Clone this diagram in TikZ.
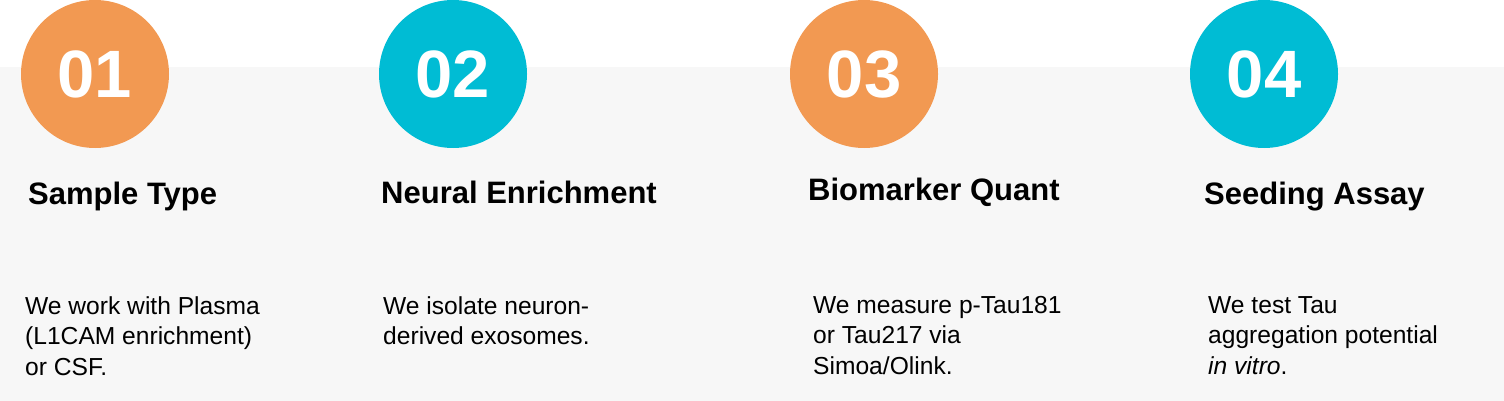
\documentclass[tikz,border=0pt]{standalone}
\usepackage{fontspec}
\setmainfont{Liberation Sans}
\usepackage{xcolor}
\definecolor{stepOrange}{RGB}{242,153,82}
\definecolor{stepTeal}{RGB}{0,188,212}
\definecolor{panelGray}{RGB}{247,247,247}

\begin{document}
\begin{tikzpicture}[x=1pt, y=-1pt,
	badge/.style={circle, minimum size=148pt, inner sep=0pt, text=white, font=\fontsize{67}{67}\selectfont\bfseries},
	heading/.style={anchor=base west, inner sep=0pt, font=\fontsize{31}{31}\selectfont\bfseries},
	blurb/.style={anchor=north west, inner sep=0pt, align=left, font=\fontsize{24.6}{30.5}\selectfont}]
	\def\W{1504}
	\def\H{401}
	\def\band{67}

	\useasboundingbox (0,0) rectangle (\W,\H);
	\fill[white]		(0,0) rectangle (\W,\H);
	\fill[panelGray]	(0,\band) rectangle (\W,\H);

	% badges
	\node[badge, fill=stepOrange]	(badge1) at (95,74) {01};
	\node[badge, fill=stepTeal]		(badge2) at (453,74) {02};
	\node[badge, fill=stepOrange]	(badge3) at (864,74) {03};
	\node[badge, fill=stepTeal]		(badge4) at (1264,74) {04};

	% headings
	\node[heading] (head1) at (28,204) {Sample Type};
	\node[heading] (head2) at (381,203) {Neural Enrichment};
	\node[heading] (head3) at (808,200) {Biomarker Quant};
	\node[heading] (head4) at (1204,204) {Seeding Assay};

	% descriptions
	\node[blurb] (text1) at (25,296) {We work with Plasma\\(L1CAM enrichment)\\or CSF.};
	\node[blurb] (text2) at (383,296) {We isolate neuron-\\derived exosomes.};
	\node[blurb] (text3) at (813,296) {We measure p-Tau181\\or Tau217 via\\Simoa/Olink.};
	\node[blurb] (text4) at (1208,296) {We test Tau\\aggregation potential\\\textit{in vitro}.};
\end{tikzpicture}
\end{document}
